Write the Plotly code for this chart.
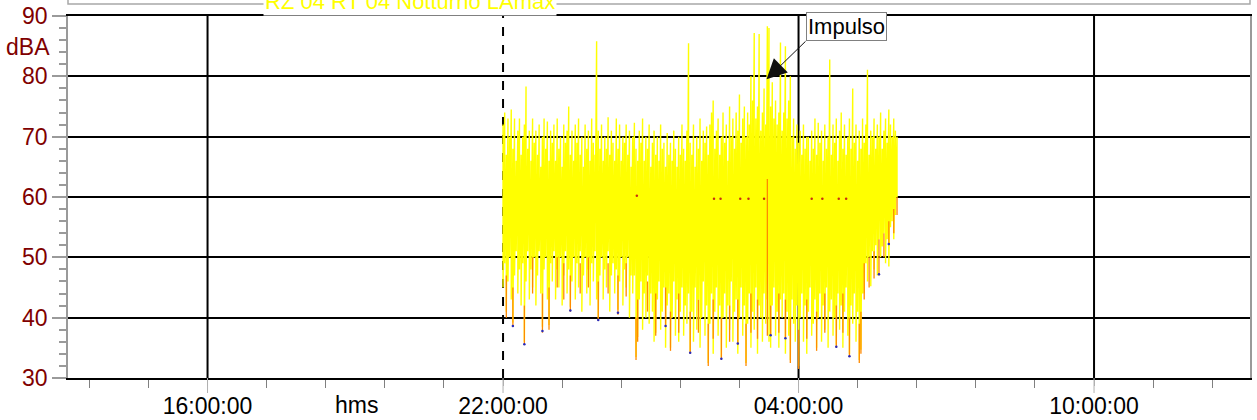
import pandas as pd
import plotly.graph_objects as go

# ---- LAmax record, 2-minute bins from 22:00 (upper / lower level per bin, dBA)
lamax_hi = [
    72, 74, 67, 73, 70, 74.5, 68, 73, 66, 71,
    73, 67, 70, 72, 78.3, 68, 71, 66, 73, 69,
    71, 67, 72, 65, 70, 73, 68, 72.5, 66, 71,
    69, 72, 66, 73, 68, 70, 65, 72, 69, 71,
    75, 67, 71, 66, 72, 69, 73, 67, 70, 65,
    72, 68, 71, 66, 73, 69, 67, 85.8, 71, 68,
    72, 66, 70, 68, 73.2, 67, 71, 69, 66, 73,
    68, 72, 66, 70, 69, 72, 67, 71, 65, 70,
    72.3, 68, 66, 71, 69, 73, 66, 70, 68, 72,
    65, 69, 71, 67, 70, 66, 72, 68, 69, 65,
    70.6, 67, 69, 66, 71, 68, 65, 70, 67, 72,
    68, 66, 71, 85.5, 69, 67, 72, 65, 70, 68,
    73, 66, 71, 69, 71.7, 67, 72, 74, 76, 68,
    71, 73, 67, 70, 74, 69, 72, 66, 75, 70,
    73, 68, 74, 71, 77, 69, 73, 75, 70, 74,
    72, 80, 76, 87.2, 73, 75, 87, 71, 74, 78,
    72, 88.3, 88, 75, 79, 73, 76, 72, 74, 85.6,
    71, 74, 85, 73, 76, 80, 70, 73, 68, 72,
    69, 71, 67, 72, 68, 70, 70, 66, 71, 68,
    73, 67, 72.3, 69, 71, 66, 72, 68, 70, 82.8,
    67, 72, 69, 73, 66, 71, 74, 68, 72, 67,
    70, 73, 68, 78, 69, 72, 66, 71, 68, 73,
    69, 72, 81.1, 67, 71, 70, 73, 68, 72, 70,
    74, 68, 71, 73, 69, 74.5, 72, 70, 73, 71,
    70,
]
lamax_lo = [
    45, 49, 41, 46, 50, 43, 39.2, 47, 51, 44,
    48, 42, 49, 36, 46, 51, 43, 48, 45, 50,
    42, 47, 51, 44, 38.5, 48, 50, 43, 38.8, 49,
    46, 51, 43, 48, 45, 50, 42, 47, 51, 44,
    48, 41.8, 46, 50, 43, 49, 45, 51, 41, 47,
    50, 44, 48, 42, 49, 46, 51, 43, 40, 47,
    50, 43, 48, 45, 51, 41, 47, 49, 44, 48,
    41.3, 46, 50, 42, 48, 45, 50, 40, 47, 44,
    47, 33.5, 36.8, 43, 46, 38, 44, 40, 47, 39,
    44, 41, 36, 37.5, 43, 46, 38, 41, 45, 35,
    42, 44, 35, 40, 46, 37, 43, 36, 41, 45,
    37, 42, 39, 44, 34.4, 41, 36, 45, 38, 43,
    35, 40, 46, 37, 42, 32.5, 39, 44, 34, 41,
    45, 37, 42, 33.5, 40, 44, 35, 42, 38, 46,
    36, 41, 43, 34, 40, 45, 37, 42, 32.5, 39,
    44, 35, 41, 38, 45, 34, 42, 40, 36, 44,
    39, 43, 36, 35, 42, 45, 37, 41, 35, 43,
    40, 44, 34, 41, 37, 33, 43, 39, 36, 42,
    32, 40, 44, 36, 42, 34, 41, 45, 37, 39,
    43, 35, 40, 44, 36, 42, 38, 45, 35, 41,
    43, 37, 40, 35.5, 44, 38, 42, 35, 41, 45,
    37, 34, 42, 39, 44, 36, 41, 33, 34.7, 44,
    44, 49, 46, 50, 45.2, 51, 48, 52, 47, 53,
    50, 51.8, 54, 49, 53, 48.5, 55, 56, 53, 57,
    60,
]

# ---- secondary level (orange): minutes after 22:00, segment top and bottom (dBA)
orange_min = [4, 12, 26, 36, 48, 56, 66, 74, 82, 94, 104, 116, 128, 140, 150,
              162, 164, 176, 186, 198, 204, 214, 228, 238, 250, 256, 266, 276,
              286, 296, 302, 310, 322, 326, 336, 344, 350, 360, 370, 382, 392,
              406, 414, 422, 434, 436, 440, 446, 452, 458, 464, 470, 476, 480]
orange_top = [47, 45, 42, 50, 44, 45, 50, 49, 47, 49, 50, 46, 49, 47, 49,
              40, 43, 46, 44, 45, 41, 44, 41, 43, 39, 43, 40, 42,
              43, 39, 44, 43, 63, 42, 44, 43, 40, 38, 43, 41, 44,
              42, 44, 40, 39, 41, 49, 50, 51, 53, 54, 56, 58, 60]
orange_bot = [40, 38.5, 35.5, 44, 37.5, 38, 45, 43, 41, 44, 45, 39.5, 44, 40.5, 43.5,
              33, 36, 41, 37, 38.5, 34.5, 37.5, 34, 37.5, 32, 36.5, 33, 36,
              35.5, 32, 37.5, 36.5, 37, 37, 37.5, 36.5, 32.5, 31.5, 36.5, 34.5, 37.5,
              35, 37.5, 33.5, 32.5, 34, 43, 45, 46.5, 47, 50, 52, 54, 57]

# ---- isolated markers: minutes after 22:00 and level (dBA)
blue_min = [12, 26, 48, 82, 116, 140, 198, 228, 266, 286, 326, 344, 406, 422, 458, 470]
blue_val = [38.6, 35.6, 37.8, 41.2, 39.6, 40.8, 38.6, 34.2, 33.2, 35.7, 37.1, 36.6,
            35.2, 33.6, 47.2, 52.2]
red_min = [163, 257, 265, 289, 299, 318, 376, 389, 409, 418]
red_val = [60.2, 59.7, 59.7, 59.7, 59.7, 59.7, 59.7, 59.7, 59.7, 59.7]

# ---- time axis
record_start = pd.Timestamp("2021-06-10 22:00:00")
view_start = "2021-06-10 13:10:00"
view_end = "2021-06-11 13:10:00"
grid_times = ["2021-06-10 16:00:00", "2021-06-10 22:00:00",
              "2021-06-11 04:00:00", "2021-06-11 10:00:00"]
grid_dash = ["solid", "dash", "solid", "solid"]
impulse_time = "2021-06-11 03:21:00"
impulse_level = 79.5

n_bins = min(len(lamax_hi), len(lamax_lo))
bin_times = pd.date_range(record_start, periods=n_bins, freq="2min")

# high/low zig-zag per bin gives the dense trace look
zx, zy = [], []
for t, h, l in zip(bin_times, lamax_hi, lamax_lo):
    zx += [t, t]
    zy += [h, l]

ox, oy = [], []
for m, a, b in zip(orange_min, orange_top, orange_bot):
    t = record_start + pd.Timedelta(minutes=m)
    ox += [t, t, None]
    oy += [a, b, None]

blue_t = [record_start + pd.Timedelta(minutes=m) for m in blue_min]
red_t = [record_start + pd.Timedelta(minutes=m) for m in red_min]

FONT = "Arial, Liberation Sans, sans-serif"
AX_GREY = "#9a9a9a"
PLOT_H = 420 - 16 - 42

fig = go.Figure()
fig.add_trace(go.Scatter(x=zx, y=zy, mode="lines",
                         line=dict(color="#FFFF00", width=1.4), hoverinfo="skip"))
fig.add_trace(go.Scatter(x=ox, y=oy, mode="lines",
                         line=dict(color="#FF8A00", width=1.3), hoverinfo="skip"))
fig.add_trace(go.Scatter(x=blue_t, y=blue_val, mode="markers",
                         marker=dict(color="#2a2ab8", size=2.5), hoverinfo="skip"))
fig.add_trace(go.Scatter(x=red_t, y=red_val, mode="markers",
                         marker=dict(color="#c83010", size=2.5), hoverinfo="skip"))

shapes = []
for t, d in zip(grid_times, grid_dash):
    # vertical grid line
    shapes.append(dict(type="line", xref="x", yref="paper", x0=t, x1=t, y0=0, y1=1,
                       line=dict(color="black", width=2, dash=d), layer="below"))
    # long major tick below the axis
    shapes.append(dict(type="line", xref="x", yref="paper", x0=t, x1=t,
                       y0=0, y1=-15 / PLOT_H, line=dict(color="#b0b0b0", width=1)))
# frame of the series caption
shapes.append(dict(type="rect", xref="paper", yref="paper", x0=0, x1=1,
                   y0=1.0331, y1=1.3, line=dict(color="#a8a8a8", width=1.5)))

annotations = [
    dict(text="RZ 04 RT 04 Notturno LAmax", xref="paper", yref="paper",
         x=0.2893, y=1.041, xanchor="center", yanchor="middle",
         showarrow=False, bgcolor="white",
         font=dict(family=FONT, size=22, color="#FFFF00")),
    dict(text="dBA", xref="paper", yref="paper", x=-0.0135, y=0.914,
         xanchor="right", yanchor="middle", showarrow=False,
         font=dict(family=FONT, size=23, color="#800000")),
    dict(text="hms", xref="paper", yref="paper", x=0.2445, y=-0.075,
         xanchor="center", yanchor="middle", showarrow=False,
         font=dict(family=FONT, size=23, color="black")),
    dict(text="Impulso", x=impulse_time, y=impulse_level, xref="x", yref="y",
         showarrow=True, ax=39, ay=-38, xanchor="left", yanchor="bottom",
         arrowhead=2, arrowsize=4, arrowwidth=1, arrowcolor="#111111",
         bgcolor="white", bordercolor="#808080", borderwidth=1, borderpad=1,
         font=dict(family=FONT, size=22, color="black")),
]

fig.update_layout(
    width=1257, height=420, autosize=False,
    margin=dict(l=68, r=7, t=16, b=42, pad=0),
    paper_bgcolor="white", plot_bgcolor="white",
    showlegend=False, shapes=shapes, annotations=annotations,
    font=dict(family=FONT),
)
fig.update_xaxes(
    type="date", range=[view_start, view_end], automargin=False,
    tickmode="linear", tick0=grid_times[0], dtick=6 * 3600 * 1000,
    tickformat="%H:%M:%S", tickfont=dict(family=FONT, size=23, color="black"),
    ticks="outside", ticklen=6, tickcolor="#b0b0b0", tickwidth=1,
    showgrid=False, zeroline=False,
    showline=True, linecolor="black", linewidth=2, mirror=True,
    minor=dict(tickmode="linear", tick0=grid_times[0], dtick=72 * 60 * 1000,
               ticks="outside", ticklen=8, tickcolor="#808080", showgrid=False),
)
fig.update_yaxes(
    range=[30, 90], tickmode="linear", tick0=30, dtick=10, automargin=False,
    tickfont=dict(family=FONT, size=23, color="#800000"),
    ticks="outside", ticklen=14, tickcolor=AX_GREY, tickwidth=1.5,
    showgrid=True, gridcolor="black", gridwidth=2, zeroline=False,
    showline=True, linecolor=AX_GREY, linewidth=1.5, mirror=True,
    minor=dict(dtick=2, ticks="outside", ticklen=7, tickcolor=AX_GREY, showgrid=False),
)

fig.write_html("out.html")
